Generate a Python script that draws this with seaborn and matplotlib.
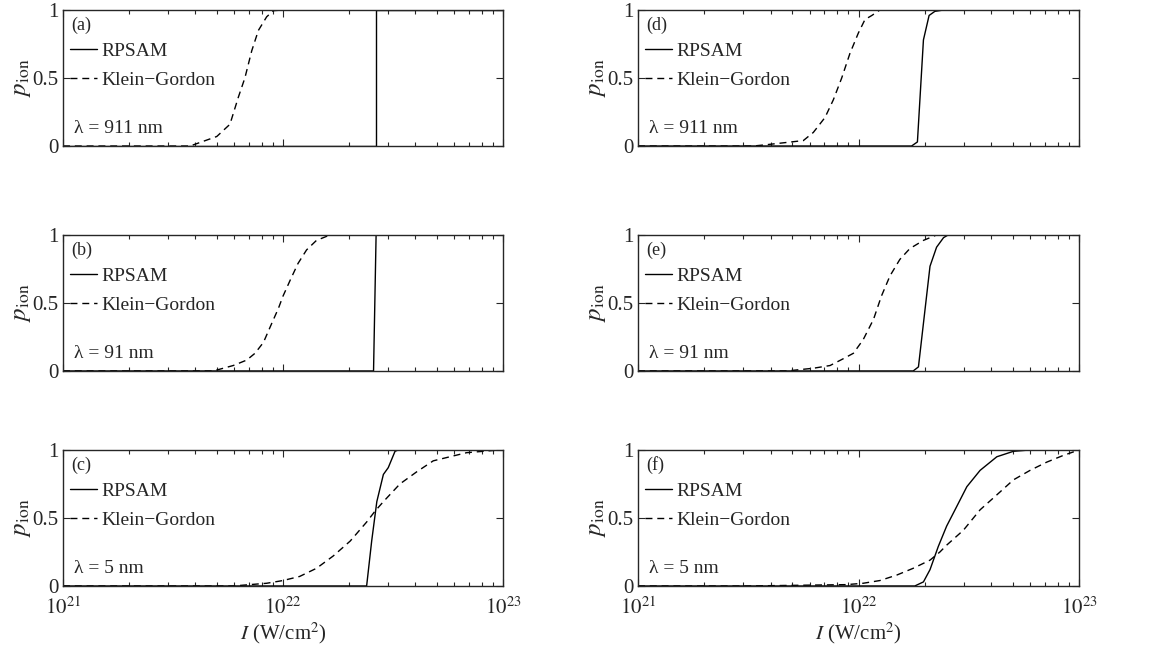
import numpy as np
import pandas as pd
import seaborn as sns
import matplotlib.pyplot as plt
from matplotlib.ticker import LogLocator, NullFormatter, FixedLocator

# intensities in W/cm^2, ionization probabilities
# (a) 911 nm
rp_a_I = [1e21, 2.64e22, 2.64e22, 1e23]
rp_a_p = [0, 0, 1, 1]
kg_a_I = [1e21, 3.78e21, 5.00e21, 5.74e21, 6.27e21, 6.71e21, 7.21e21, 7.73e21, 8.43e21, 9.04e21, 9.98e21, 1.24e22]
kg_a_p = [0, 0, 0.07, 0.16, 0.36, 0.50, 0.70, 0.85, 0.95, 0.995, 1, 1]

# (b) 91 nm
rp_b_I = [1e21, 2.58e22, 2.65e22, 1e23]
rp_b_p = [0, 0, 1, 1]
kg_b_I = [1e21, 4.82e21, 5.94e21, 6.84e21, 7.46e21, 8.15e21, 8.89e21, 9.53e21, 1.00e22, 1.08e22,
          1.17e22, 1.28e22, 1.42e22, 1.61e22, 1.69e22]
kg_b_p = [0, 0, 0.04, 0.08, 0.13, 0.21, 0.35, 0.46, 0.55, 0.67, 0.79, 0.89, 0.96, 0.995, 1]

# (c) 5 nm
rp_c_I = [1e21, 2.40e22, 2.53e22, 2.67e22, 2.86e22, 3.01e22, 3.23e22, 3.34e22, 1e23]
rp_c_p = [0, 0, 0.33, 0.62, 0.82, 0.87, 0.99, 1, 1]
kg_c_I = [1e21, 5.94e21, 8.43e21, 1.00e22, 1.19e22, 1.42e22, 1.69e22, 2.02e22, 2.40e22, 2.62e22,
          2.86e22, 3.40e22, 4.06e22, 4.82e22, 5.74e22, 6.84e22, 8.13e22, 9.68e22]
kg_c_p = [0, 0, 0.02, 0.04, 0.07, 0.13, 0.22, 0.33, 0.47, 0.55, 0.62, 0.75, 0.84, 0.92, 0.95, 0.98, 0.99, 1]

# (d) 911 nm
rp_d_I = [1e21, 1.74e22, 1.85e22, 1.97e22, 2.09e22, 2.22e22, 2.43e22, 1e23]
rp_d_p = [0, 0, 0.03, 0.78, 0.96, 0.99, 1, 1]
kg_d_I = [1e21, 3.33e21, 3.84e21, 5.62e21, 6.24e21, 7.05e21, 7.69e21, 8.39e21, 9.14e21, 9.98e21,
          1.07e22, 1.15e22, 1.25e22]
kg_d_p = [0, 0, 0.01, 0.04, 0.10, 0.21, 0.34, 0.50, 0.68, 0.83, 0.93, 0.96, 1]

# (e) 91 nm
rp_e_I = [1e21, 1.77e22, 1.87e22, 1.97e22, 2.11e22, 2.26e22, 2.43e22, 2.55e22, 2.88e22, 1e23]
rp_e_p = [0, 0, 0.03, 0.35, 0.77, 0.91, 0.98, 1, 1, 1]
kg_e_I = [1e21, 4.72e21, 6.24e21, 7.43e21, 8.53e21, 9.48e21, 1.05e22, 1.17e22, 1.27e22, 1.39e22,
          1.54e22, 1.71e22, 1.97e22, 2.26e22]
kg_e_p = [0, 0, 0.02, 0.04, 0.09, 0.13, 0.23, 0.38, 0.55, 0.70, 0.82, 0.90, 0.96, 1]

# (f) 5 nm
rp_f_I = [1e21, 1.80e22, 1.97e22, 2.11e22, 2.30e22, 2.51e22, 2.74e22, 3.10e22, 3.56e22, 4.24e22,
          5.04e22, 6.00e22, 1e23]
rp_f_p = [0, 0, 0.03, 0.12, 0.29, 0.44, 0.56, 0.73, 0.85, 0.95, 0.99, 1, 1]
kg_f_I = [1e21, 3.11e21, 8.83e21, 1.05e22, 1.25e22, 1.49e22, 1.77e22, 2.11e22, 2.34e22, 2.51e22,
          2.99e22, 3.56e22, 4.24e22, 5.04e22, 6.00e22, 7.13e22, 8.49e22, 1.0e23]
kg_f_p = [0, 0, 0.01, 0.02, 0.04, 0.08, 0.13, 0.19, 0.25, 0.30, 0.41, 0.56, 0.67, 0.78, 0.85, 0.91, 0.96, 1]

panel_tags = ["(a)", "(b)", "(c)", "(d)", "(e)", "(f)"]
wavelengths = ["λ = 911 nm", "λ = 91 nm", "λ = 5 nm", "λ = 911 nm", "λ = 91 nm", "λ = 5 nm"]
x_ticks = [1e21, 1e22, 1e23]
x_ticklabels = ["$10^{21}$", "$10^{22}$", "$10^{23}$"]
y_ticks = [0, 0.5, 1]
y_ticklabels = ["0", "0.5", "1"]

panels = [
    (rp_a_I, rp_a_p, kg_a_I, kg_a_p),
    (rp_b_I, rp_b_p, kg_b_I, kg_b_p),
    (rp_c_I, rp_c_p, kg_c_I, kg_c_p),
    (rp_d_I, rp_d_p, kg_d_I, kg_d_p),
    (rp_e_I, rp_e_p, kg_e_I, kg_e_p),
    (rp_f_I, rp_f_p, kg_f_I, kg_f_p),
]

sns.set_style("ticks")
plt.rcParams["font.family"] = ["Liberation Serif", "DejaVu Serif"]
plt.rcParams["mathtext.fontset"] = "stix"

fig = plt.figure(figsize=(11.56, 6.49), dpi=100)

lefts = [0.0545, 0.5519]
widths = [0.3806, 0.3815]
bottoms = [0.775, 0.4284, 0.0971]
height = 0.2096

for i, (rI, rp, kI, kp) in enumerate(panels):
    col, row = divmod(i, 3)
    ax = fig.add_axes([lefts[col], bottoms[row], widths[col], height])

    rdf = pd.DataFrame({"I": rI, "p": rp})
    kdf = pd.DataFrame({"I": kI, "p": kp})
    sns.lineplot(data=rdf, x="I", y="p", color="k", lw=1.0, estimator=None, sort=False,
                 label="RPSAM", ax=ax)
    sns.lineplot(data=kdf, x="I", y="p", color="k", lw=1.0, estimator=None, sort=False,
                 linestyle=(0, (5, 3.5)), label="Klein\u2212Gordon", ax=ax)

    ax.set_xscale("log")
    ax.set_xlim(1e21, 1e23)
    ax.set_ylim(0, 1)
    ax.xaxis.set_major_locator(FixedLocator(x_ticks))
    ax.xaxis.set_minor_locator(LogLocator(base=10, subs=np.arange(2, 10)))
    ax.xaxis.set_minor_formatter(NullFormatter())
    ax.set_yticks(y_ticks)
    ax.set_yticklabels(y_ticklabels)
    if row == 2:
        ax.set_xticklabels(x_ticklabels)
        ax.set_xlabel("$I$ (W/cm$^2$)", fontsize=15, labelpad=1)
    else:
        ax.set_xticklabels([])
        ax.set_xlabel("")
    ax.set_ylabel(r"$p_{\mathrm{ion}}$", fontsize=18, labelpad=0)

    ax.tick_params(which="both", direction="in", top=True, right=True, labelsize=15, width=0.8)
    ax.tick_params(axis="y", pad=3)
    ax.tick_params(axis="x", pad=8)
    ax.tick_params(which="major", length=5)
    ax.tick_params(which="minor", length=3)
    for s in ax.spines.values():
        s.set_linewidth(1.0)

    ax.legend(loc="upper left", bbox_to_anchor=(0.016, 0.765), frameon=False, fontsize=14,
              handlelength=1.4, handletextpad=0.2, labelspacing=0.6, borderpad=0, borderaxespad=0)
    ax.text(0.018, 0.89, panel_tags[i], transform=ax.transAxes, fontsize=13, va="center", ha="left")
    ax.text(0.025, 0.13, wavelengths[i], transform=ax.transAxes, fontsize=14, va="center", ha="left")

fig.savefig("out.png", dpi=100)
